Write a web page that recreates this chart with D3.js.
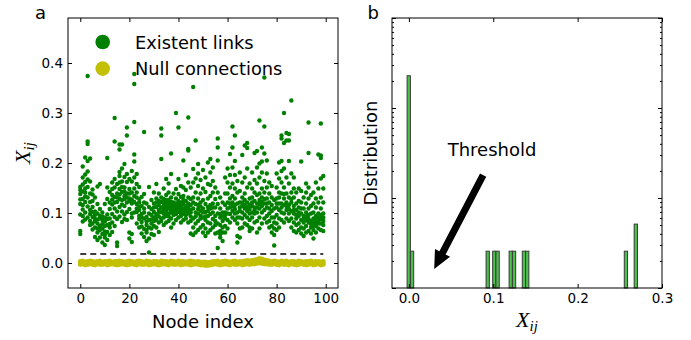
<!DOCTYPE html>
<html>
<head>
<meta charset="utf-8">
<script src="https://cdn.jsdelivr.net/npm/d3@7"></script>
<style>
  body { margin: 0; background: #fff; }
  svg { display: block; }
  text { font-family: "DejaVu Sans", sans-serif; fill: #000; }
</style>
</head>
<body>
<svg id="chart" width="691" height="340"></svg>
<script>
// ---- panel a data ----
const nodeTicks = [0, 20, 40, 60, 80, 100];
const valueTicks = [0.0, 0.1, 0.2, 0.3, 0.4];
const threshold = 0.018;

// X_ij of existent links, one list per node
const existentLinks = [
  [0.058, 0.064, 0.097, 0.118, 0.138, 0.146, 0.152, 0.127],
  [0.083, 0.107, 0.128, 0.157, 0.171, 0.193, 0.094, 0.143, 0.116],
  [0.101, 0.122, 0.133, 0.162, 0.211, 0.177, 0.087, 0.141, 0.149],
  [0.374, 0.243, 0.238, 0.183, 0.152, 0.131, 0.113, 0.091, 0.204, 0.167],
  [0.209, 0.163, 0.139, 0.122, 0.098, 0.076, 0.106, 0.084],
  [0.067, 0.079, 0.102, 0.124, 0.147, 0.092, 0.112, 0.137],
  [0.052, 0.071, 0.088, 0.103, 0.131, 0.084, 0.096],
  [0.046, 0.061, 0.079, 0.099, 0.118, 0.069, 0.153, 0.087],
  [0.051, 0.066, 0.074, 0.094, 0.089, 0.158, 0.108],
  [0.041, 0.058, 0.078, 0.086, 0.101, 0.069, 0.093],
  [0.036, 0.051, 0.063, 0.091, 0.083, 0.074, 0.118, 0.057],
  [0.21, 0.046, 0.062, 0.076, 0.097, 0.128, 0.151, 0.088],
  [0.056, 0.071, 0.089, 0.108, 0.142, 0.121, 0.078],
  [0.062, 0.098, 0.117, 0.136, 0.161, 0.081, 0.127, 0.148],
  [0.29, 0.243, 0.168, 0.132, 0.109, 0.092, 0.074, 0.151, 0.121],
  [0.034, 0.041, 0.103, 0.122, 0.139, 0.158, 0.088, 0.131],
  [0.237, 0.227, 0.182, 0.148, 0.128, 0.112, 0.093, 0.174, 0.137, 0.161],
  [0.237, 0.189, 0.163, 0.142, 0.126, 0.103, 0.117, 0.082, 0.152],
  [0.172, 0.151, 0.128, 0.114, 0.097, 0.134, 0.088, 0.198, 0.143],
  [0.271, 0.255, 0.178, 0.139, 0.121, 0.102, 0.086, 0.162, 0.131],
  [0.061, 0.049, 0.108, 0.129, 0.148, 0.168, 0.124, 0.139],
  [0.042, 0.058, 0.099, 0.119, 0.141, 0.163, 0.091, 0.184, 0.127],
  [0.378, 0.358, 0.282, 0.217, 0.203, 0.149, 0.122, 0.101, 0.134, 0.171],
  [0.079, 0.102, 0.118, 0.141, 0.158, 0.178, 0.109, 0.131],
  [0.071, 0.088, 0.112, 0.128, 0.152, 0.094, 0.121, 0.106],
  [0.059, 0.082, 0.098, 0.114, 0.132, 0.091, 0.073],
  [0.262, 0.052, 0.068, 0.089, 0.109, 0.138, 0.101, 0.121],
  [0.044, 0.061, 0.076, 0.092, 0.119, 0.066, 0.083],
  [0.021, 0.049, 0.071, 0.086, 0.099, 0.152, 0.112],
  [0.058, 0.079, 0.096, 0.108, 0.126, 0.069, 0.087],
  [0.056, 0.074, 0.091, 0.102, 0.119, 0.141, 0.084, 0.111],
  [0.071, 0.086, 0.098, 0.112, 0.129, 0.158, 0.094, 0.121],
  [0.062, 0.081, 0.093, 0.106, 0.116, 0.139, 0.101, 0.124],
  [0.269, 0.255, 0.208, 0.089, 0.102, 0.111, 0.122, 0.084, 0.131],
  [0.076, 0.091, 0.099, 0.114, 0.128, 0.149, 0.106, 0.121],
  [0.081, 0.094, 0.104, 0.112, 0.119, 0.136, 0.098, 0.168, 0.126],
  [0.084, 0.099, 0.109, 0.118, 0.126, 0.141, 0.093, 0.159, 0.113],
  [0.219, 0.071, 0.089, 0.101, 0.114, 0.131, 0.106, 0.178, 0.122],
  [0.079, 0.096, 0.104, 0.116, 0.121, 0.139, 0.101, 0.111],
  [0.3, 0.086, 0.098, 0.109, 0.119, 0.129, 0.148, 0.104, 0.114],
  [0.271, 0.091, 0.102, 0.108, 0.116, 0.124, 0.138, 0.168, 0.106, 0.113],
  [0.081, 0.094, 0.106, 0.114, 0.121, 0.132, 0.099, 0.154, 0.111],
  [0.205, 0.086, 0.098, 0.109, 0.118, 0.134, 0.151, 0.104, 0.126],
  [0.089, 0.101, 0.106, 0.114, 0.124, 0.146, 0.176, 0.111, 0.096],
  [0.291, 0.228, 0.225, 0.081, 0.099, 0.111, 0.119, 0.131, 0.161, 0.106],
  [0.059, 0.084, 0.101, 0.116, 0.128, 0.151, 0.106, 0.093],
  [0.352, 0.056, 0.071, 0.089, 0.109, 0.131, 0.161, 0.188, 0.121],
  [0.245, 0.061, 0.079, 0.101, 0.118, 0.141, 0.169, 0.093],
  [0.066, 0.084, 0.099, 0.116, 0.129, 0.154, 0.179, 0.198, 0.108],
  [0.071, 0.089, 0.104, 0.121, 0.139, 0.166, 0.094, 0.113],
  [0.061, 0.076, 0.091, 0.109, 0.126, 0.149, 0.186, 0.101],
  [0.054, 0.069, 0.086, 0.102, 0.118, 0.142, 0.171, 0.093],
  [0.061, 0.081, 0.094, 0.112, 0.129, 0.158, 0.201, 0.104],
  [0.208, 0.066, 0.079, 0.098, 0.116, 0.134, 0.156, 0.181, 0.109],
  [0.071, 0.088, 0.101, 0.119, 0.141, 0.164, 0.191, 0.111],
  [0.059, 0.076, 0.094, 0.111, 0.128, 0.151, 0.084],
  [0.249, 0.231, 0.205, 0.03, 0.061, 0.079, 0.099, 0.141, 0.118],
  [0.051, 0.064, 0.076, 0.091, 0.109, 0.131, 0.058, 0.098],
  [0.044, 0.061, 0.071, 0.084, 0.101, 0.121, 0.093],
  [0.061, 0.074, 0.089, 0.101, 0.116, 0.139, 0.171, 0.096],
  [0.069, 0.086, 0.099, 0.121, 0.139, 0.161, 0.189, 0.109],
  [0.218, 0.081, 0.098, 0.111, 0.129, 0.151, 0.176, 0.119],
  [0.273, 0.231, 0.091, 0.104, 0.121, 0.134, 0.159, 0.191, 0.113],
  [0.255, 0.204, 0.086, 0.099, 0.116, 0.129, 0.149, 0.176, 0.108],
  [0.041, 0.054, 0.079, 0.101, 0.119, 0.141, 0.164, 0.091],
  [0.051, 0.069, 0.091, 0.104, 0.121, 0.144, 0.181, 0.111],
  [0.216, 0.071, 0.089, 0.101, 0.114, 0.131, 0.161, 0.121],
  [0.235, 0.079, 0.096, 0.109, 0.126, 0.139, 0.171, 0.116],
  [0.24, 0.23, 0.076, 0.091, 0.104, 0.121, 0.151, 0.189, 0.112],
  [0.064, 0.071, 0.086, 0.099, 0.116, 0.129, 0.159, 0.108],
  [0.069, 0.091, 0.101, 0.114, 0.131, 0.149, 0.181, 0.121],
  [0.22, 0.081, 0.099, 0.111, 0.124, 0.141, 0.166, 0.106],
  [0.224, 0.061, 0.084, 0.101, 0.119, 0.136, 0.159, 0.191, 0.111],
  [0.285, 0.069, 0.091, 0.109, 0.126, 0.139, 0.171, 0.199, 0.118],
  [0.231, 0.203, 0.079, 0.101, 0.114, 0.131, 0.149, 0.181, 0.122],
  [0.371, 0.273, 0.219, 0.089, 0.106, 0.119, 0.141, 0.164, 0.128],
  [0.205, 0.081, 0.094, 0.111, 0.129, 0.151, 0.179, 0.119],
  [0.071, 0.084, 0.099, 0.121, 0.139, 0.161, 0.109],
  [0.061, 0.074, 0.091, 0.104, 0.131, 0.154, 0.116],
  [0.035, 0.056, 0.069, 0.091, 0.109, 0.126, 0.081],
  [0.066, 0.079, 0.096, 0.111, 0.129, 0.151, 0.179, 0.119],
  [0.071, 0.089, 0.106, 0.119, 0.141, 0.169, 0.201, 0.131],
  [0.255, 0.249, 0.204, 0.086, 0.101, 0.119, 0.139, 0.161, 0.184, 0.111],
  [0.3, 0.24, 0.081, 0.099, 0.116, 0.129, 0.151, 0.189, 0.138],
  [0.26, 0.245, 0.089, 0.106, 0.121, 0.139, 0.171, 0.114],
  [0.258, 0.245, 0.204, 0.084, 0.099, 0.116, 0.131, 0.159, 0.108],
  [0.325, 0.071, 0.089, 0.104, 0.121, 0.141, 0.179, 0.128],
  [0.064, 0.081, 0.099, 0.114, 0.131, 0.149, 0.171, 0.106],
  [0.061, 0.076, 0.089, 0.106, 0.119, 0.141, 0.096],
  [0.066, 0.079, 0.094, 0.111, 0.124, 0.149, 0.101],
  [0.203, 0.059, 0.071, 0.086, 0.099, 0.121, 0.144, 0.109],
  [0.054, 0.069, 0.081, 0.094, 0.109, 0.131, 0.088],
  [0.061, 0.074, 0.086, 0.101, 0.119, 0.141, 0.159, 0.093],
  [0.281, 0.22, 0.064, 0.081, 0.096, 0.109, 0.129, 0.151, 0.088],
  [0.059, 0.071, 0.084, 0.099, 0.114, 0.136, 0.078],
  [0.049, 0.066, 0.074, 0.089, 0.101, 0.119, 0.141, 0.081],
  [0.061, 0.074, 0.086, 0.094, 0.111, 0.129, 0.161, 0.079],
  [0.217, 0.069, 0.079, 0.091, 0.099, 0.121, 0.149, 0.086],
  [0.279, 0.215, 0.21, 0.066, 0.079, 0.096, 0.109, 0.131, 0.169, 0.088],
  [0.064, 0.076, 0.084, 0.099, 0.121, 0.149, 0.174, 0.091]
];

// X_ij of null connections, spread of the band at each node
const nullConnections = [
  [-0.003, 0.000, 0.003], [-0.002, 0.001, 0.004], [-0.004, -0.001, 0.002], [-0.003, 0.001, 0.003], [-0.002, 0.000, 0.004],
  [-0.003, -0.001, 0.003], [-0.004, 0.000, 0.002], [-0.002, 0.001, 0.003], [-0.003, 0.000, 0.004], [-0.003, -0.001, 0.002],
  [-0.002, 0.000, 0.003], [-0.004, 0.001, 0.003], [-0.003, 0.000, 0.004], [-0.002, 0.001, 0.002], [-0.003, -0.001, 0.003],
  [-0.004, 0.000, 0.003], [-0.003, 0.001, 0.004], [-0.002, 0.000, 0.003], [-0.003, 0.000, 0.002], [-0.004, -0.001, 0.003],
  [-0.003, 0.000, 0.004], [-0.002, 0.001, 0.003], [-0.003, -0.001, 0.002], [-0.004, 0.000, 0.003], [-0.002, 0.001, 0.004],
  [-0.003, 0.000, 0.003], [-0.003, -0.001, 0.002], [-0.002, 0.001, 0.004], [-0.004, 0.000, 0.003], [-0.003, 0.000, 0.002],
  [-0.002, 0.001, 0.003], [-0.003, -0.001, 0.003], [-0.004, 0.000, 0.002], [-0.003, 0.001, 0.004], [-0.002, 0.000, 0.003],
  [-0.003, 0.000, 0.003], [-0.004, -0.001, 0.002], [-0.002, 0.001, 0.004], [-0.003, 0.000, 0.003], [-0.003, -0.001, 0.002],
  [-0.002, 0.001, 0.004], [-0.004, 0.000, 0.003], [-0.003, 0.001, 0.003], [-0.002, 0.000, 0.002], [-0.003, -0.001, 0.003],
  [-0.004, 0.000, 0.004], [-0.003, 0.001, 0.003], [-0.002, 0.000, 0.002], [-0.003, -0.001, 0.003], [-0.004, 0.000, 0.002],
  [-0.004, -0.001, 0.002], [-0.005, -0.002, 0.002], [-0.005, -0.002, 0.001], [-0.004, -0.001, 0.002], [-0.003, 0.000, 0.003],
  [-0.002, 0.001, 0.003], [-0.003, 0.000, 0.004], [-0.004, -0.001, 0.002], [-0.003, 0.000, 0.003], [-0.002, 0.001, 0.004],
  [-0.003, 0.000, 0.003], [-0.004, -0.001, 0.002], [-0.002, 0.001, 0.003], [-0.003, 0.000, 0.004], [-0.003, -0.001, 0.002],
  [-0.002, 0.000, 0.003], [-0.004, 0.001, 0.003], [-0.003, 0.000, 0.004], [-0.002, 0.001, 0.005], [-0.003, 0.001, 0.004],
  [-0.002, 0.002, 0.005], [-0.002, 0.002, 0.006], [-0.001, 0.003, 0.007], [0.000, 0.004, 0.009], [-0.001, 0.004, 0.008],
  [-0.002, 0.002, 0.006], [-0.002, 0.001, 0.005], [-0.003, 0.001, 0.004], [-0.003, 0.000, 0.003], [-0.002, 0.001, 0.004],
  [-0.003, 0.000, 0.003], [-0.004, -0.001, 0.002], [-0.002, 0.001, 0.004], [-0.003, 0.000, 0.003], [-0.003, 0.001, 0.004],
  [-0.004, 0.000, 0.002], [-0.002, 0.001, 0.003], [-0.003, -0.001, 0.003], [-0.004, 0.000, 0.002], [-0.003, 0.001, 0.004],
  [-0.002, 0.000, 0.003], [-0.003, -0.001, 0.002], [-0.004, 0.000, 0.003], [-0.003, 0.001, 0.003], [-0.002, 0.000, 0.004],
  [-0.004, -0.001, 0.002], [-0.003, 0.000, 0.003], [-0.002, 0.001, 0.003], [-0.004, -0.001, 0.002], [-0.003, 0.000, 0.003]
];

// ---- panel b data ----
const histTicks = [0.0, 0.1, 0.2, 0.3];
const binLeft = [-0.0021, 0.0018, 0.0915, 0.0993, 0.1032, 0.1188, 0.1227, 0.1344, 0.1383, 0.2553, 0.2670];
const binCounts = [89, 1, 1, 1, 1, 1, 1, 1, 1, 1, 2];
const binWidth = 0.0039;
const sampleSize = 100;
const arrowTail = [0.088, 18];
const arrowTip = [0.030, 1.63];
const labelPos = [0.046, 29];

const GREEN = '#008000';
const YELLOW = '#c2c000';

const svg = d3.select('#chart');

// inward ticks on all four sides, like the matplotlib classic style
function frameAxes(g, x, y, w, h, xt, yt, xfmt, yfmt) {
  g.append('g').attr('transform', `translate(0,${h})`)
    .call(d3.axisBottom(x).tickValues(xt).tickFormat(xfmt).tickSizeInner(-4).tickSizeOuter(0).tickPadding(5));
  g.append('g')
    .call(d3.axisTop(x).tickValues(xt).tickFormat('').tickSizeInner(-4).tickSizeOuter(0));
  if (yt) {
    g.append('g')
      .call(d3.axisLeft(y).tickValues(yt).tickFormat(yfmt).tickSizeInner(-4).tickSizeOuter(0).tickPadding(5));
    g.append('g').attr('transform', `translate(${w},0)`)
      .call(d3.axisRight(y).tickValues(yt).tickFormat('').tickSizeInner(-4).tickSizeOuter(0));
  }
  g.selectAll('.domain').remove();
  g.selectAll('.tick line').attr('stroke', '#000');
  g.selectAll('.tick text').attr('font-size', '13.5px').attr('font-family', '"DejaVu Sans", sans-serif');
  g.append('rect').attr('width', w).attr('height', h)
    .attr('fill', 'none').attr('stroke', '#000').attr('stroke-width', 1);
}

// ================= panel a =================
const a = { left: 68, top: 18, width: 270, height: 270 };
const ga = svg.append('g').attr('transform', `translate(${a.left},${a.top})`);
const xA = d3.scaleLinear().domain([-5, 105]).range([0, a.width]);
const yA = d3.scaleLinear().domain([-0.05, 0.49]).range([a.height, 0]);

const nullPts = nullConnections.flatMap((vals, i) => vals.map(v => [i, v]));
const linkPts = existentLinks.flatMap((vals, i) => vals.map(v => [i, v]));

ga.append('g').selectAll('circle').data(nullPts).join('circle')
  .attr('cx', d => xA(d[0])).attr('cy', d => yA(d[1])).attr('r', 2.4).attr('fill', YELLOW);

ga.append('line')
  .attr('x1', xA(0)).attr('x2', xA(99))
  .attr('y1', yA(threshold)).attr('y2', yA(threshold))
  .attr('stroke', '#000').attr('stroke-width', 1.5).attr('stroke-dasharray', '6,4');

ga.append('g').selectAll('circle').data(linkPts).join('circle')
  .attr('cx', d => xA(d[0])).attr('cy', d => yA(d[1])).attr('r', 2.2).attr('fill', GREEN);

frameAxes(ga, xA, yA, a.width, a.height, nodeTicks, valueTicks, d3.format('d'), d3.format('.1f'));

// legend
const legend = [['Existent links', GREEN], ['Null connections', YELLOW]];
legend.forEach(([name, col], i) => {
  const cy = 24 + i * 26.6;
  ga.append('circle').attr('cx', 34.7).attr('cy', cy).attr('r', 7.3).attr('fill', col);
  ga.append('text').attr('x', 67).attr('y', cy + 6.5).attr('font-size', '17.8px').text(name);
});

svg.append('text').attr('x', 35).attr('y', 18.5).attr('font-size', '18px').text('a');
svg.append('text').attr('x', a.left + a.width / 2).attr('y', 328).attr('text-anchor', 'middle')
  .attr('font-size', '18px').text('Node index');

function xijLabel(sel) {
  sel.append('tspan').attr('font-family', '"Liberation Serif", serif').attr('font-style', 'italic')
    .attr('font-size', '22px').text('X');
  sel.append('tspan').attr('font-family', '"Liberation Serif", serif').attr('font-style', 'italic')
    .attr('font-size', '15px').attr('dy', 4).text('ij');
}
svg.append('text').attr('text-anchor', 'middle')
  .attr('transform', `translate(30,${a.top + a.height / 2}) rotate(-90)`)
  .call(xijLabel);

// ================= panel b =================
const b = { left: 392, top: 18, width: 270, height: 270 };
const gb = svg.append('g').attr('transform', `translate(${b.left},${b.top})`);
const xB = d3.scaleLinear().domain([-0.02, 0.3]).range([0, b.width]);
const yB = d3.scaleLog().domain([1, 1000]).range([b.height, 0]);

const bins = binLeft.map((x0, i) => ({ x0, density: binCounts[i] / (sampleSize * binWidth) }));
const barW = xB(binWidth) - xB(0);
gb.append('g').selectAll('rect').data(bins).join('rect')
  .attr('x', d => xB(d.x0)).attr('width', barW)
  .attr('y', d => yB(d.density)).attr('height', d => yB(1) - yB(d.density))
  .attr('fill', '#4cbf4c').attr('stroke', '#3a3a3a').attr('stroke-width', 1);

// log ticks: long at decades, short in between
const logTicks = yB.ticks();
const majorY = logTicks.filter(t => Math.abs(Math.log10(t) - Math.round(Math.log10(t))) < 1e-9);
const minorY = logTicks.filter(t => !majorY.includes(t));
[[majorY, -4], [minorY, -2]].forEach(([vals, len]) => {
  gb.append('g').call(d3.axisLeft(yB).tickValues(vals).tickFormat('').tickSizeInner(len).tickSizeOuter(0));
  gb.append('g').attr('transform', `translate(${b.width},0)`)
    .call(d3.axisRight(yB).tickValues(vals).tickFormat('').tickSizeInner(len).tickSizeOuter(0));
});
frameAxes(gb, xB, yB, b.width, b.height, histTicks, null, d3.format('.1f'), null);

// threshold arrow
const t0 = [xB(arrowTail[0]), yB(arrowTail[1])];
const t1 = [xB(arrowTip[0]), yB(arrowTip[1])];
const L = Math.hypot(t1[0] - t0[0], t1[1] - t0[1]);
const u = [(t1[0] - t0[0]) / L, (t1[1] - t0[1]) / L];
const n = [-u[1], u[0]];
const shaft = 3.5, head = 8.5, headLen = 18;
const base = [t1[0] - u[0] * headLen, t1[1] - u[1] * headLen];
const P = (p, k) => [p[0] + n[0] * k, p[1] + n[1] * k];
const arrow = [P(t0, shaft), P(base, shaft), P(base, head), t1, P(base, -head), P(base, -shaft), P(t0, -shaft)];
gb.append('path').attr('d', d3.line()(arrow) + 'Z').attr('fill', '#000');
gb.append('text').attr('x', xB(labelPos[0])).attr('y', yB(labelPos[1]))
  .attr('font-size', '18px').text('Threshold');

svg.append('text').attr('x', 367.5).attr('y', 18.5).attr('font-size', '18px').text('b');
svg.append('text').attr('text-anchor', 'middle')
  .attr('transform', `translate(377,${b.top + b.height / 2}) rotate(-90)`)
  .attr('font-size', '18px').text('Distribution');
svg.append('text').attr('x', b.left + b.width / 2).attr('y', 327).attr('text-anchor', 'middle')
  .call(xijLabel);
</script>
</body>
</html>
